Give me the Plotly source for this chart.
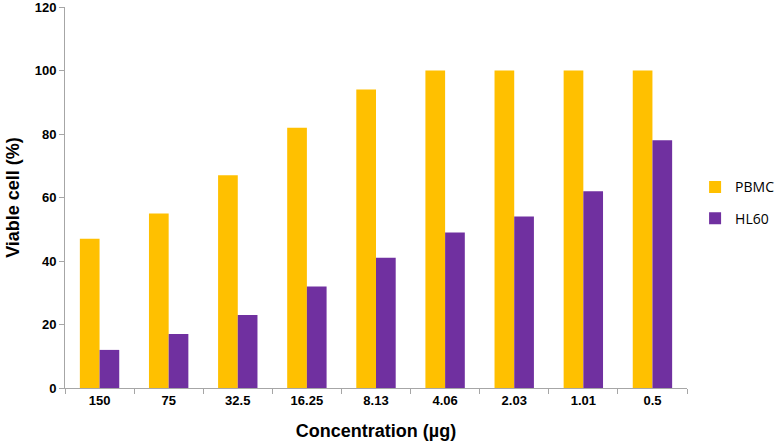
import plotly.graph_objects as go

categories = ["150", "75", "32.5", "16.25", "8.13", "4.06", "2.03", "1.01", "0.5"]
pbmc = [47, 55, 67, 82, 94, 100, 100, 100, 100]
hl60 = [12, 17, 23, 32, 41, 49, 54, 62, 78]
y_ticks = [0, 20, 40, 60, 80, 100, 120]

fig = go.Figure()
fig.add_trace(go.Bar(x=categories, y=pbmc, name="PBMC", marker_color="#FFC000", marker_line_width=0,
                     legendgroup="a"))
fig.add_trace(go.Bar(x=categories, y=hl60, name="HL60", marker_color="#7030A0", marker_line_width=0,
                     legendgroup="b"))

fig.update_layout(
    width=780, height=443,
    margin=dict(l=65, r=93, t=7, b=55, autoexpand=False),
    paper_bgcolor="white", plot_bgcolor="white",
    barmode="group", bargap=0.43, bargroupgap=0,
    font=dict(family="Liberation Sans, Arial, sans-serif", color="black"),
    legend=dict(x=1.013, y=0.486, xanchor="left", yanchor="middle",
                font=dict(family="Open Sans, sans-serif", size=14, color="black"),
                itemsizing="constant", tracegroupgap=10, itemwidth=30),
    showlegend=True,
)
fig.update_xaxes(
    type="category", showline=True, linecolor="#A6A6A6", linewidth=1,
    ticks="outside", tickson="boundaries", ticklen=5, tickcolor="#A6A6A6",
    tickfont=dict(size=13, family="Liberation Sans, Arial, sans-serif", weight="bold"),
    title=dict(text="Concentration (µg)", font=dict(size=18, weight="bold"), standoff=17),
    showgrid=False,
)
fig.update_yaxes(
    range=[0, 120], tickvals=y_ticks, showline=True, linecolor="#A6A6A6", linewidth=1,
    ticks="outside", ticklen=5, tickcolor="#A6A6A6", ticklabeloverflow="allow",
    tickfont=dict(size=13, weight="bold"),
    title=dict(text="Viable cell (%)", font=dict(size=18, weight="bold"), standoff=10),
    showgrid=False, zeroline=False,
)
fig.write_html("out.html", config={"displayModeBar": False},
               post_script="document.body.style.margin='0';")
